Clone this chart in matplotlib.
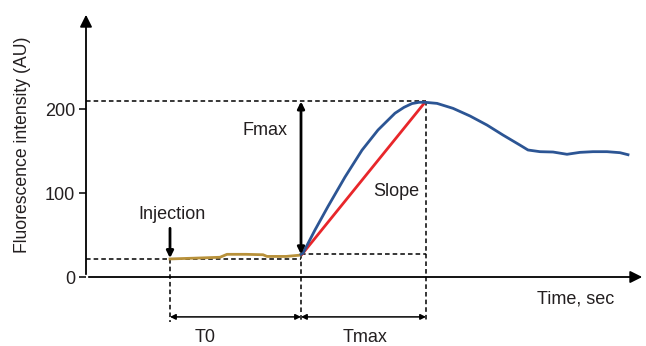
import matplotlib
matplotlib.use("Agg")
import matplotlib.pyplot as plt

plt.rcParams['font.family'] = ['Liberation Sans', 'DejaVu Sans']

# baseline before the rise (brown)
base_t = [84, 110, 134, 141, 160, 177, 181, 200, 214]
base_f = [21.5, 22.5, 23.5, 27, 27, 26.5, 24.5, 24.5, 26]

# fluorescence response (blue)
resp_t = [215, 217, 229, 242, 259, 276, 292, 309, 318, 326, 333, 339, 351, 367, 384, 401, 417,
          434, 442, 454, 467, 481, 494, 507, 521, 534, 542]
resp_f = [27, 28.5, 56, 84, 119, 151, 175, 195, 202, 206.5, 208, 208, 206.7, 200.8, 191.7, 180.9, 169,
          157, 151.2, 149.2, 148.8, 146.1, 148.4, 149.2, 149.2, 148, 145.6]

# slope line (red)
slope_t = [216, 339]
slope_f = [27, 208]

t_inj, t_rise, t_max = 84, 215, 340
f_base, f_rise, f_max = 21.5, 27, 209

fig = plt.figure(figsize=(6.46, 3.46), dpi=100)
ax = fig.add_axes([86/646, 69/346, 559/646, 265/346])
ax.set_xlim(0, 559)
ax.set_ylim(0, 315.5)
for s in ax.spines.values():
    s.set_visible(False)

dash = dict(color='black', lw=1.1, ls=(0, (3, 2)), clip_on=False)
ax.plot([0, t_max], [f_max, f_max], **dash)
ax.plot([0, t_rise], [f_base, f_base], **dash)
ax.plot([t_rise, t_max], [f_rise, f_rise], **dash)
ax.plot([t_inj, t_inj], [f_base, -54], **dash)
ax.plot([t_rise, t_rise], [f_rise, -54], **dash)
ax.plot([t_max, t_max], [f_max, -54], **dash)

ax.plot(base_t, base_f, color='#b8913a', lw=2)
ax.plot(slope_t, slope_f, color='#e8262a', lw=2)
ax.plot(resp_t, resp_f, color='#2c5594', lw=2, solid_joinstyle='round')

# axes arrows
arr = dict(arrowstyle='-|>', color='black', lw=1.3, mutation_scale=18)
ax.annotate('', xy=(1, 0), xytext=(0, 0), xycoords='axes fraction', arrowprops=arr)
ax.annotate('', xy=(0, 1), xytext=(0, 0), xycoords='axes fraction', arrowprops=arr)

# Fmax double arrow and injection arrow
ax.annotate('', xy=(t_rise, f_max), xytext=(t_rise, f_rise),
            arrowprops=dict(arrowstyle='<|-|>', color='black', lw=2, mutation_scale=10, shrinkA=0, shrinkB=0))
ax.annotate('', xy=(t_inj, f_base + 1), xytext=(t_inj, 58),
            arrowprops=dict(arrowstyle='-|>', color='black', lw=2, mutation_scale=10, shrinkA=0, shrinkB=0))

# T0 / Tmax arrows
hz = dict(arrowstyle='<|-|>', color='black', lw=1.1, mutation_scale=8, shrinkA=0, shrinkB=0)
ax.annotate('', xy=(t_inj, -47.5), xytext=(t_rise, -47.5), annotation_clip=False, arrowprops=hz)
ax.annotate('', xy=(t_rise, -47.5), xytext=(t_max, -47.5), annotation_clip=False, arrowprops=hz)

fs = 13
ax.text(179, 174, 'Fmax', fontsize=fs, ha='center', va='center', color='#231f20')
ax.text(310, 102, 'Slope', fontsize=fs, ha='center', va='center', color='#231f20')
ax.text(86, 75, 'Injection', fontsize=fs, ha='center', va='center', color='#231f20')
ax.text(490, -26, 'Time, sec', fontsize=fs, ha='center', va='center', color='#231f20')
ax.text(119, -72.5, 'T0', fontsize=fs, ha='center', va='center', color='#231f20')
ax.text(279, -72.5, 'Tmax', fontsize=fs, ha='center', va='center', color='#231f20')

ax.set_xticks([])
ax.set_yticks([0, 100, 200])
ax.tick_params(axis='y', length=5, width=1.1, labelsize=fs, labelcolor='#231f20', pad=3)
ax.set_ylabel('Fluorescence intensity (AU)', fontsize=12.7, color='#231f20')
ax.yaxis.set_label_coords(-55/559, 0.5)

fig.savefig('out.png', dpi=100)
